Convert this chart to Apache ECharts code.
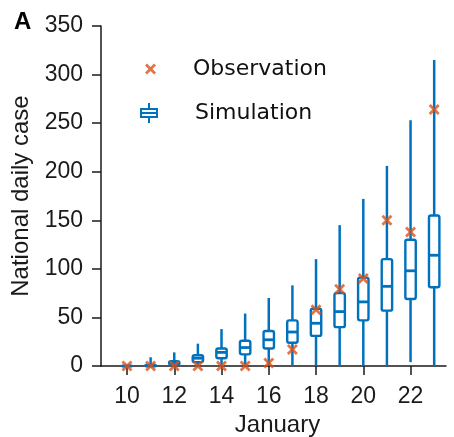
<!DOCTYPE html>
<html>
<head>
	<meta charset="utf-8" />
	<title>National daily case</title>
	<script src="https://cdn.jsdelivr.net/npm/echarts@6/dist/echarts.min.js"></script>
</head>
<body style="margin:0;">
	<div id="main" style="width: 454px;height: 437px;"></div>
	<script type="text/javascript">
		// days in January
		var days = [10, 11, 12, 13, 14, 15, 16, 17, 18, 19, 20, 21, 22, 23];
		// observed daily cases
		var observed = [0, 0, 0, 0, 0, 0, 3, 17, 58, 79, 90, 150, 138, 264];
		// simulation box stats
		var simMin = [0, 0, 0, 0, 0, 0, 0, 0, 0, 0, 0, 0, 4, 1];
		var simQ1 = [0, 0, 1, 4, 8, 12, 18, 24, 31, 40, 47, 57, 69, 81];
		var simMedian = [0, 0, 3, 8, 14, 19, 27, 35, 44, 56, 66, 82, 98, 114];
		var simQ3 = [0, 1, 5, 11, 18, 26, 36, 47, 59, 75, 91, 110, 130, 155];
		var simMax = [1, 9, 14, 23, 38, 54, 70, 83, 110, 145, 172, 206, 253, 315];
		var xTicks = [10, 12, 14, 16, 18, 20, 22];

		var blue = '#0072bd';
		var orange = '#d95319';
		var axisColor = '#1a1a1a';

		var boxData = days.map(function (d, i) {
			return [d, simMin[i], simQ1[i], simMedian[i], simQ3[i], simMax[i]];
		});
		var obsData = days.map(function (d, i) {
			return [d, observed[i]];
		});

		var xIcon = 'path://M0,1.8 L1.8,0 L5,3.2 L8.2,0 L10,1.8 L6.8,5 L10,8.2 L8.2,10 L5,6.8 L1.8,10 L0,8.2 L3.2,5 Z';
		var boxIcon = 'path://M8,0 H10 V5 H8 Z M8,15 H10 V20 H8 Z M0,5 H18 V7 H0 Z M0,13 H18 V15 H0 Z M0,5 H2 V15 H0 Z M16,5 H18 V15 H16 Z M0,9 H18 V11 H0 Z';

		var myChart = echarts.init(document.getElementById('main'));

		var option = {
			animation: false,
			textStyle: { fontFamily: 'Liberation Sans' },
			title: {
				text: 'A',
				left: 9,
				top: 5,
				textStyle: { fontSize: 24, fontWeight: 'bold', color: '#000', fontFamily: 'Liberation Sans' }
			},
			legend: [{
				data: [{ name: 'Observation', icon: xIcon }],
				left: 140,
				top: 53,
				itemWidth: 11,
				itemHeight: 11,
				textStyle: { fontSize: 22, color: '#111', fontFamily: 'DejaVu Sans', padding: [0, 0, 0, 32] }
			}, {
				data: [{ name: 'Simulation', icon: boxIcon }],
				left: 135,
				top: 97,
				itemWidth: 18,
				itemHeight: 20,
				textStyle: { fontSize: 22, color: '#111', fontFamily: 'DejaVu Sans', padding: [0, 0, 0, 32] }
			}],
			grid: { left: 101, right: 8, top: 26, bottom: 71, outerBoundsMode: 'none', containLabel: false },
			xAxis: {
				type: 'value',
				min: 8.9,
				max: 23.5,
				name: 'January',
				nameLocation: 'middle',
				nameGap: 44,
				nameTextStyle: { fontSize: 24, color: axisColor, padding: [0, 0, 0, 8] },
				splitLine: { show: false },
				axisLine: { lineStyle: { color: axisColor, width: 1.5 } },
				axisTick: { customValues: xTicks, length: 9, lineStyle: { color: axisColor, width: 1.5 } },
				axisLabel: { customValues: xTicks, fontSize: 23, color: axisColor, margin: 19 }
			},
			yAxis: {
				type: 'value',
				min: 0,
				max: 350,
				interval: 50,
				name: 'National daily case',
				nameLocation: 'middle',
				nameGap: 64,
				nameTextStyle: { fontSize: 24, color: axisColor },
				splitLine: { show: false },
				axisLine: { show: true, lineStyle: { color: axisColor, width: 1.5 } },
				axisTick: { show: true, length: 9, lineStyle: { color: axisColor, width: 1.5 } },
				axisLabel: { fontSize: 23, color: axisColor, margin: 18 }
			},
			series: [{
				name: 'Simulation',
				type: 'custom',
				itemStyle: { color: blue },
				encode: { x: 0, y: [1, 2, 3, 4, 5] },
				data: boxData,
				z: 2,
				renderItem: function (params, api) {
					var x = api.value(0);
					var pMin = api.coord([x, api.value(1)]);
					var pQ1 = api.coord([x, api.value(2)]);
					var pMed = api.coord([x, api.value(3)]);
					var pQ3 = api.coord([x, api.value(4)]);
					var pMax = api.coord([x, api.value(5)]);
					var hw = 5.2;
					return {
						type: 'group',
						children: [{
							type: 'line',
							shape: { x1: pMax[0], y1: pMax[1], x2: pMin[0], y2: pMin[1] },
							style: { stroke: blue, lineWidth: 2.5 }
						}, {
							type: 'rect',
							shape: { x: pQ3[0] - hw, y: pQ3[1], width: hw * 2, height: pQ1[1] - pQ3[1], r: 2 },
							style: { fill: '#fff', stroke: blue, lineWidth: 2.4 }
						}, {
							type: 'line',
							shape: { x1: pMed[0] - hw, y1: pMed[1], x2: pMed[0] + hw, y2: pMed[1] },
							style: { stroke: blue, lineWidth: 2.8 }
						}]
					};
				}
			}, {
				name: 'Observation',
				type: 'scatter',
				symbol: xIcon,
				symbolSize: 11,
				itemStyle: { color: orange },
				data: obsData,
				z: 5
			}]
		};

		myChart.setOption(option);
	</script>
</body>
</html>
